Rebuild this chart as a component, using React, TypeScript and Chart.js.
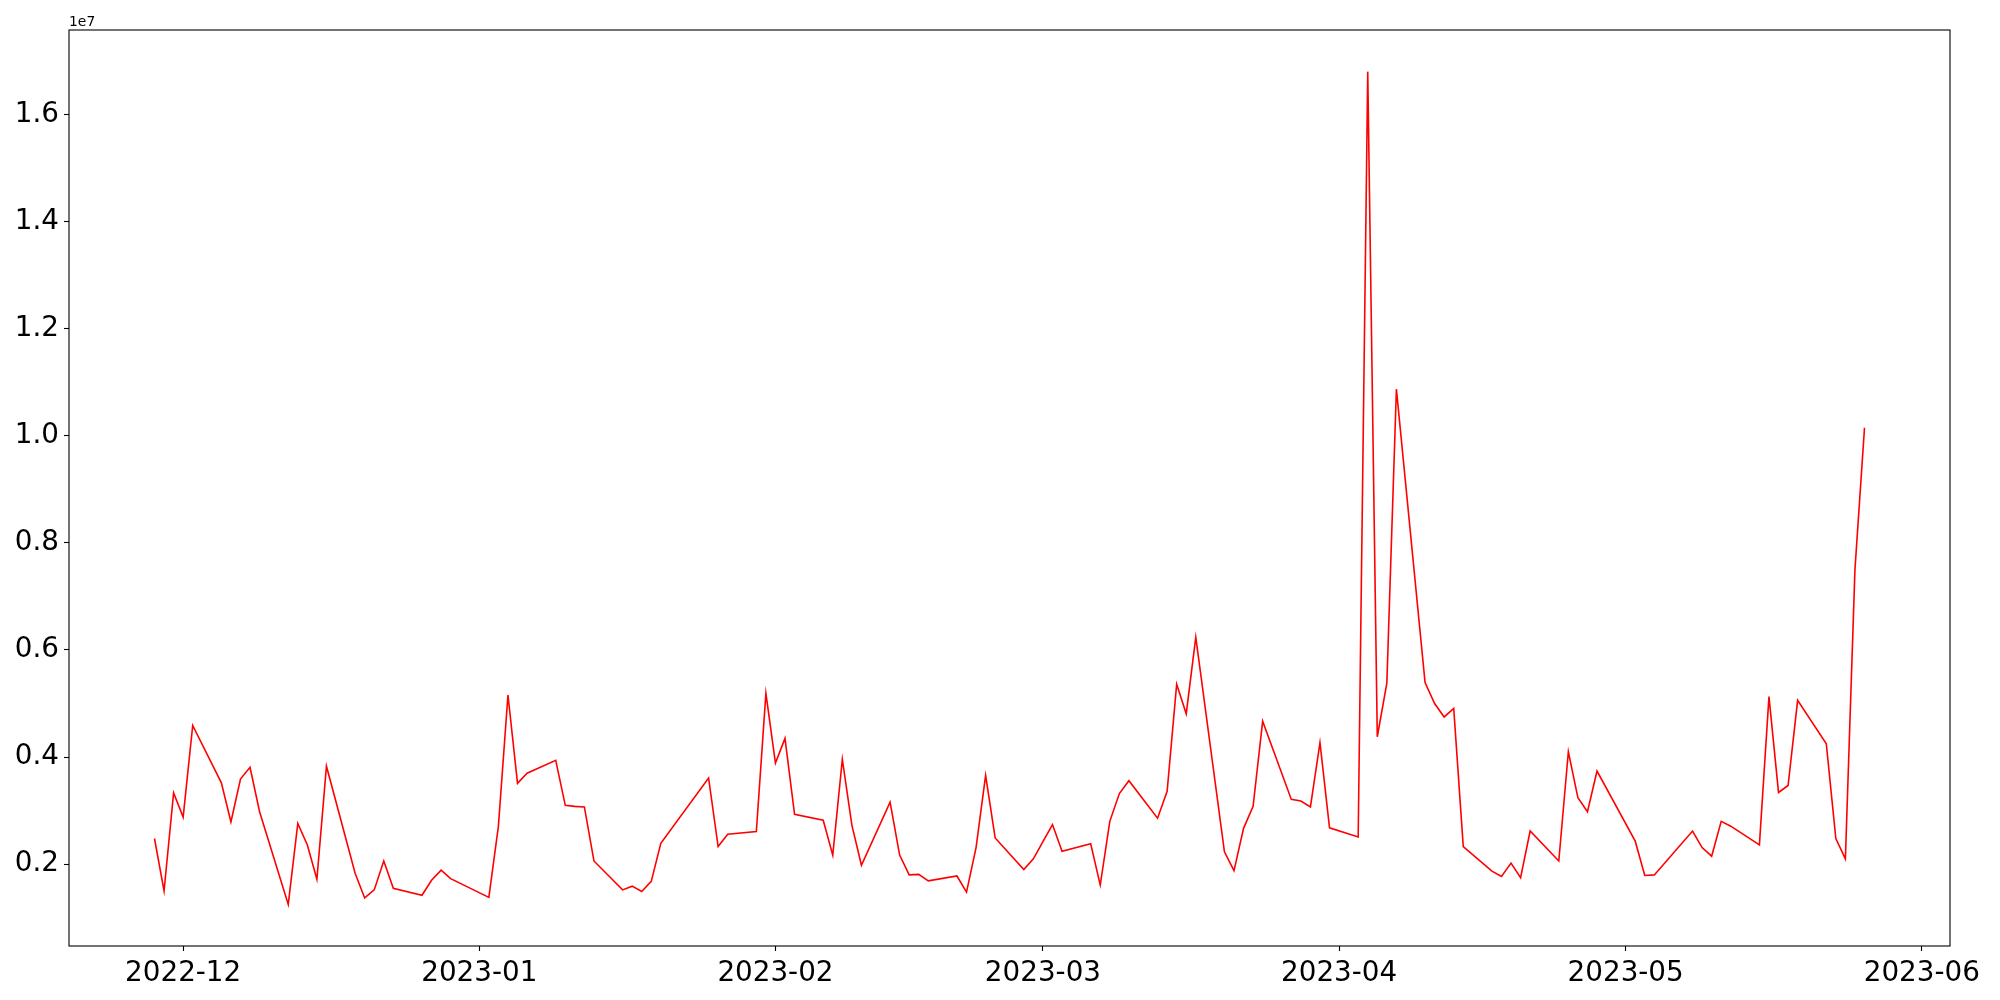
import React, { useEffect, useRef } from "react";
import { Chart, registerables } from "chart.js";

Chart.register(...registerables);

const dates: string[] = [
  "2022-11-28", "2022-11-29", "2022-11-30", "2022-12-01", "2022-12-02",
  "2022-12-05", "2022-12-06", "2022-12-07", "2022-12-08", "2022-12-09",
  "2022-12-12", "2022-12-13", "2022-12-14", "2022-12-15", "2022-12-16",
  "2022-12-19", "2022-12-20", "2022-12-21", "2022-12-22", "2022-12-23",
  "2022-12-26", "2022-12-27", "2022-12-28", "2022-12-29",
  "2023-01-02", "2023-01-03", "2023-01-04", "2023-01-05", "2023-01-06",
  "2023-01-09", "2023-01-10", "2023-01-11", "2023-01-12", "2023-01-13",
  "2023-01-16", "2023-01-17", "2023-01-18", "2023-01-19", "2023-01-20",
  "2023-01-25", "2023-01-26", "2023-01-27",
  "2023-01-30", "2023-01-31", "2023-02-01", "2023-02-02", "2023-02-03",
  "2023-02-06", "2023-02-07", "2023-02-08", "2023-02-09", "2023-02-10",
  "2023-02-13", "2023-02-14", "2023-02-15", "2023-02-16", "2023-02-17",
  "2023-02-20", "2023-02-21", "2023-02-22", "2023-02-23", "2023-02-24",
  "2023-02-27", "2023-02-28", "2023-03-01", "2023-03-02", "2023-03-03",
  "2023-03-06", "2023-03-07", "2023-03-08", "2023-03-09", "2023-03-10",
  "2023-03-13", "2023-03-14", "2023-03-15", "2023-03-16", "2023-03-17",
  "2023-03-20", "2023-03-21", "2023-03-22", "2023-03-23", "2023-03-24",
  "2023-03-27", "2023-03-28", "2023-03-29", "2023-03-30", "2023-03-31",
  "2023-04-03", "2023-04-04", "2023-04-05", "2023-04-06", "2023-04-07",
  "2023-04-10", "2023-04-11", "2023-04-12", "2023-04-13", "2023-04-14",
  "2023-04-17", "2023-04-18", "2023-04-19", "2023-04-20", "2023-04-21",
  "2023-04-24", "2023-04-25", "2023-04-26", "2023-04-27", "2023-04-28",
  "2023-05-02", "2023-05-03", "2023-05-04",
  "2023-05-08", "2023-05-09", "2023-05-10", "2023-05-11", "2023-05-12",
  "2023-05-15", "2023-05-16", "2023-05-17", "2023-05-18", "2023-05-19",
  "2023-05-22", "2023-05-23", "2023-05-24", "2023-05-25", "2023-05-26",
];

const values: number[] = [
  2480000, 1500000, 3330000, 2880000, 4590000,
  3520000, 2790000, 3590000, 3810000, 2980000,
  1250000, 2760000, 2360000, 1720000, 3830000,
  1830000, 1370000, 1520000, 2060000, 1550000,
  1420000, 1700000, 1890000, 1730000,
  1380000, 2710000, 5160000, 3510000, 3700000,
  3940000, 3100000, 3080000, 3070000, 2060000,
  1520000, 1590000, 1490000, 1680000, 2390000,
  3610000, 2330000, 2560000,
  2610000, 5190000, 3890000, 4350000, 2930000,
  2820000, 2170000, 3960000, 2730000, 1980000,
  3160000, 2170000, 1800000, 1810000, 1690000,
  1780000, 1480000, 2310000, 3660000, 2490000,
  1900000, 2100000, 2420000, 2740000, 2240000,
  2380000, 1610000, 2800000, 3320000, 3560000,
  2860000, 3360000, 5360000, 4810000, 6240000,
  2230000, 1880000, 2670000, 3080000, 4670000,
  3210000, 3180000, 3070000, 4270000, 2680000,
  2510000, 16800000, 4380000, 5380000, 10870000,
  5390000, 5000000, 4750000, 4910000, 2330000,
  1870000, 1770000, 2020000, 1750000, 2620000,
  2060000, 4100000, 3240000, 2980000, 3740000,
  2430000, 1790000, 1800000,
  2620000, 2310000, 2150000, 2800000, 2710000,
  2360000, 5130000, 3340000, 3470000, 5060000,
  4250000, 2480000, 2100000, 7500000, 10150000,
];

const xTickMonths: string[] = [
  "2022-12", "2023-01", "2023-02", "2023-03", "2023-04", "2023-05", "2023-06",
];

const yTickValues: number[] = [2e6, 4e6, 6e6, 8e6, 10e6, 12e6, 14e6, 16e6];

const toMs = (d: string) => {
  const [y, m, day] = d.split("-").map(Number);
  return Date.UTC(y, m - 1, day || 1);
};

const fmtMonth = (ms: number) => {
  const d = new Date(ms);
  const m = d.getUTCMonth() + 1;
  return `${d.getUTCFullYear()}-${m < 10 ? "0" + m : m}`;
};

const FONT = "'DejaVu Sans', 'Liberation Sans', sans-serif";

export default function App() {
  const ref = useRef<HTMLCanvasElement | null>(null);

  useEffect(() => {
    if (!ref.current) return;
    const xs = dates.map(toMs);
    const xMinD = Math.min(...xs);
    const xMaxD = Math.max(...xs);
    const xPad = (xMaxD - xMinD) * 0.05;
    const yMinD = Math.min(...values);
    const yMaxD = Math.max(...values);
    const yPad = (yMaxD - yMinD) * 0.05;

    const framePlugin = {
      id: "frame",
      afterDraw(chart: any) {
        const { ctx, chartArea } = chart;
        ctx.save();
        ctx.strokeStyle = "#000";
        ctx.lineWidth = 1.1;
        ctx.strokeRect(
          chartArea.left,
          chartArea.top,
          chartArea.right - chartArea.left,
          chartArea.bottom - chartArea.top
        );
        ctx.fillStyle = "#000";
        ctx.font = `13.9px ${FONT}`;
        ctx.textAlign = "left";
        ctx.textBaseline = "alphabetic";
        ctx.fillText("1e7", chartArea.left, chartArea.top - 4);
        ctx.restore();
      },
    };

    const chart = new Chart(ref.current, {
      type: "line",
      data: {
        datasets: [
          {
            data: xs.map((x, i) => ({ x, y: values[i] })),
            borderColor: "#ff0000",
            borderWidth: 1.6,
            pointRadius: 0,
            tension: 0,
            fill: false,
          },
        ],
      },
      options: {
        animation: false,
        responsive: false,
        maintainAspectRatio: false,
        layout: { padding: { left: 0, top: 30, right: 50, bottom: 0 } },
        plugins: {
          legend: { display: false },
          tooltip: { enabled: false },
        },
        scales: {
          x: {
            type: "linear",
            min: xMinD - xPad,
            max: xMaxD + xPad,
            afterBuildTicks(scale: any) {
              scale.ticks = xTickMonths.map((m) => ({ value: toMs(m) }));
            },
            afterFit(scale: any) {
              scale.height = 54;
            },
            ticks: {
              callback: (v: any) => fmtMonth(Number(v)),
              font: { family: FONT, size: 27.8 },
              color: "#000",
              padding: 6,
              maxRotation: 0,
              autoSkip: false,
            },
            grid: {
              display: true,
              drawOnChartArea: false,
              drawTicks: true,
              tickLength: 5,
              tickColor: "#000",
              tickWidth: 1.1,
            },
            border: { display: false },
          },
          y: {
            type: "linear",
            min: yMinD - yPad,
            max: yMaxD + yPad,
            afterBuildTicks(scale: any) {
              scale.ticks = yTickValues.map((v) => ({ value: v }));
            },
            afterFit(scale: any) {
              scale.width = 69;
            },
            ticks: {
              callback: (v: any) => (Number(v) / 1e7).toFixed(1),
              font: { family: FONT, size: 27.8 },
              color: "#000",
              padding: 5,
              autoSkip: false,
            },
            grid: {
              display: true,
              drawOnChartArea: false,
              drawTicks: true,
              tickLength: 5,
              tickColor: "#000",
              tickWidth: 1.1,
            },
            border: { display: false },
          },
        },
      },
      plugins: [framePlugin],
    } as any);

    return () => chart.destroy();
  }, []);

  return (
    <div
      style={{
        position: "fixed",
        left: 0,
        top: 0,
        width: 2000,
        height: 1000,
        background: "#fff",
      }}
    >
      <canvas ref={ref} width={2000} height={1000} style={{ width: 2000, height: 1000 }} />
    </div>
  );
}
